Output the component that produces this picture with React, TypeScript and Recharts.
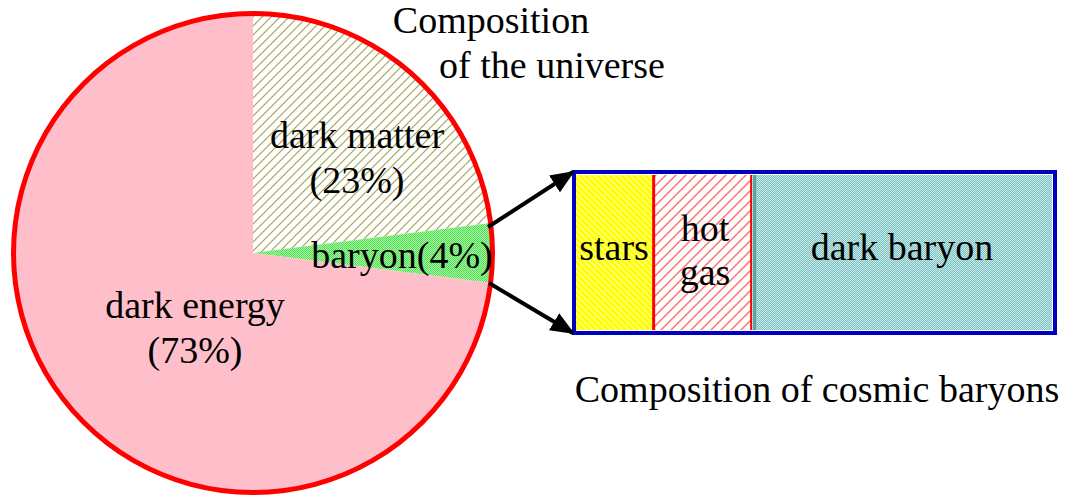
import { PieChart, Pie, Cell, BarChart, Bar, XAxis, YAxis } from "recharts";

// --- DATA ---
const universeParts = ["dark matter", "baryon", "dark energy"];
const universeShares = [23, 4, 73];
const baryonParts = ["stars", "hotGas", "darkBaryon"];
const baryonShares = [16, 21, 63];

const universeData = universeParts.map((name, i) => ({ name, value: universeShares[i] }));
const baryonRow: Record<string, number | string> = { name: "baryons" };
baryonParts.forEach((p, i) => (baryonRow[p] = baryonShares[i]));
const outlineData = [{ name: "outline", value: 100 }];

const sliceFills = ["url(#hatchOlive)", "url(#dotGreen)", "#ffbfca"];
const FONT = "'Liberation Serif', 'Times New Roman', serif";

const PatternDefs = () => (
    <defs>
        <pattern id="hatchOlive" patternUnits="userSpaceOnUse" width="9" height="9">
            <rect width="9" height="9" fill="#ffffff" />
            <path d="M-2,2 L2,-2 M0,9 L9,0 M7,11 L11,7" stroke="#a4a458" strokeWidth="1.2" />
        </pattern>
        <pattern id="dotGreen" patternUnits="userSpaceOnUse" width="2" height="2">
            <rect width="2" height="2" fill="#a6f6a6" />
            <rect width="1" height="1" fill="#52e052" />
            <rect x="1" y="1" width="1" height="1" fill="#52e052" />
        </pattern>
        <pattern id="hatchYellow" patternUnits="userSpaceOnUse" width="6" height="6">
            <rect width="6" height="6" fill="#ffff00" />
            <path d="M-2,4 L2,8 M0,0 L6,6 M4,-2 L8,2" stroke="#ffffb0" strokeWidth="1.2" />
        </pattern>
        <pattern id="hatchRed" patternUnits="userSpaceOnUse" width="10" height="10">
            <rect width="10" height="10" fill="#ffffff" />
            <path d="M-2,2 L2,-2 M0,10 L10,0 M8,12 L12,8" stroke="#ff6a6a" strokeWidth="1.4" />
        </pattern>
        <pattern id="dotTeal" patternUnits="userSpaceOnUse" width="2" height="2">
            <rect width="2" height="2" fill="#c8eaea" />
            <rect width="1" height="1" fill="#7cbfbf" />
            <rect x="1" y="1" width="1" height="1" fill="#7cbfbf" />
        </pattern>
        <marker id="arrowHead" markerWidth="6" markerHeight="5" refX="5.5" refY="2.5" orient="auto" markerUnits="strokeWidth">
            <path d="M0,0 L6,2.5 L0,5 Z" fill="#000" />
        </marker>
    </defs>
);

const starsShape = (p: any) => (
    <rect x={p.x} y={p.y} width={p.width} height={p.height} fill="url(#hatchYellow)" />
);

const hotGasShape = (p: any) => (
    <g>
        <rect x={p.x} y={p.y} width={p.width} height={p.height} fill="url(#hatchRed)" />
        <rect x={p.x} y={p.y} width={3} height={p.height} fill="#ff0000" />
        <rect x={p.x + p.width - 2} y={p.y} width={2} height={p.height} fill="#ff0000" />
    </g>
);

const darkBaryonShape = (p: any) => (
    <g>
        <rect x={p.x} y={p.y} width={p.width} height={p.height} fill="url(#dotTeal)" />
        <rect x={p.x + 1} y={p.y} width={3} height={p.height} fill="#5f9f9f" />
    </g>
);

const labelStyle = { fontFamily: FONT, fontSize: 38, fill: "#000" };

export default function App() {
    return (
        <div style={{ position: "absolute", left: 0, top: 0, width: 1072, height: 499, background: "#fff" }}>
            <div style={{ position: "absolute", left: 0, top: 0 }}>
                <PieChart width={506} height={499} margin={{ top: 0, right: 0, bottom: 0, left: 0 }}>
                    <PatternDefs />
                    <Pie
                        data={universeData}
                        dataKey="value"
                        cx={253}
                        cy={253}
                        outerRadius={240}
                        startAngle={90}
                        endAngle={-270}
                        stroke="none"
                        isAnimationActive={false}
                    >
                        {universeData.map((d, i) => (
                            <Cell key={d.name} fill={sliceFills[i]} />
                        ))}
                    </Pie>
                    <Pie
                        data={outlineData}
                        dataKey="value"
                        cx={253}
                        cy={253}
                        innerRadius={237}
                        outerRadius={242}
                        startAngle={90}
                        endAngle={-270}
                        fill="#ff0000"
                        stroke="none"
                        isAnimationActive={false}
                    />
                </PieChart>
            </div>

            <div style={{ position: "absolute", left: 576, top: 175 }}>
                <BarChart
                    width={476}
                    height={155}
                    data={[baryonRow]}
                    layout="vertical"
                    barCategoryGap={0}
                    margin={{ top: 0, right: 0, bottom: 0, left: 0 }}
                >
                    <PatternDefs />
                    <XAxis type="number" domain={[0, 100]} hide />
                    <YAxis type="category" dataKey="name" hide />
                    <Bar dataKey="stars" stackId="b" shape={starsShape} isAnimationActive={false} />
                    <Bar dataKey="hotGas" stackId="b" shape={hotGasShape} isAnimationActive={false} />
                    <Bar dataKey="darkBaryon" stackId="b" shape={darkBaryonShape} isAnimationActive={false} />
                </BarChart>
            </div>

            <div
                style={{
                    position: "absolute",
                    left: 572,
                    top: 170,
                    width: 485,
                    height: 165,
                    boxSizing: "border-box",
                    border: "4px solid #0000c0",
                }}
            />

            <svg width={1072} height={499} style={{ position: "absolute", left: 0, top: 0, pointerEvents: "none" }}>
                <PatternDefs />
                <line x1={488} y1={227} x2={573} y2={172} stroke="#000" strokeWidth={4} markerEnd="url(#arrowHead)" />
                <line x1={489} y1={283} x2={573} y2={333} stroke="#000" strokeWidth={4} markerEnd="url(#arrowHead)" />

                <g textAnchor="middle" style={labelStyle}>
                    <text x={491} y={33}>Composition</text>
                    <text x={552} y={78}>of the universe</text>
                    <text x={357} y={148}>dark matter</text>
                    <text x={357} y={193}>(23%)</text>
                    <text x={402} y={268}>baryon(4%)</text>
                    <text x={195} y={318}>dark energy</text>
                    <text x={195} y={363}>(73%)</text>
                    <text x={614} y={260}>stars</text>
                    <text x={705} y={241}>hot</text>
                    <text x={705} y={285}>gas</text>
                    <text x={902} y={260}>dark baryon</text>
                    <text x={817} y={402}>Composition of cosmic baryons</text>
                </g>
            </svg>
        </div>
    );
}
